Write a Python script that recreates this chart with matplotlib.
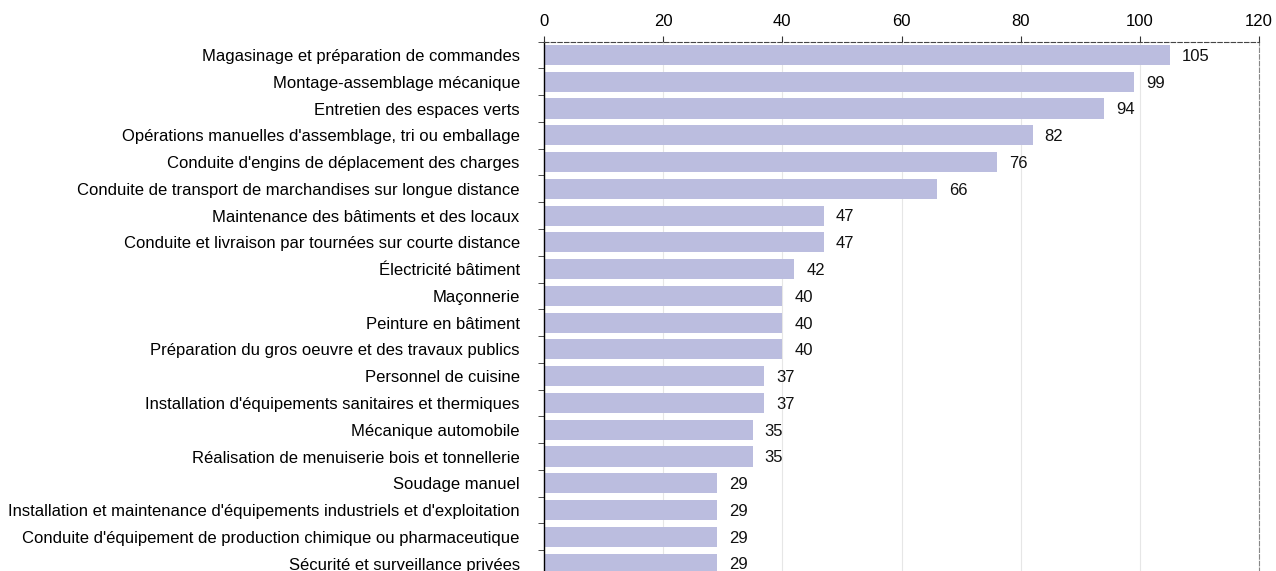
import matplotlib.pyplot as plt
import numpy as np

plt.rcParams['font.family'] = ['Liberation Sans', 'DejaVu Sans']

metiers = [
    "Magasinage et préparation de commandes",
    "Montage-assemblage mécanique",
    "Entretien des espaces verts",
    "Opérations manuelles d'assemblage, tri ou emballage",
    "Conduite d'engins de déplacement des charges",
    "Conduite de transport de marchandises sur longue distance",
    "Maintenance des bâtiments et des locaux",
    "Conduite et livraison par tournées sur courte distance",
    "Électricité bâtiment",
    "Maçonnerie",
    "Peinture en bâtiment",
    "Préparation du gros oeuvre et des travaux publics",
    "Personnel de cuisine",
    "Installation d'équipements sanitaires et thermiques",
    "Mécanique automobile",
    "Réalisation de menuiserie bois et tonnellerie",
    "Soudage manuel",
    "Installation et maintenance d'équipements industriels et d'exploitation",
    "Conduite d'équipement de production chimique ou pharmaceutique",
    "Sécurité et surveillance privées",
]
valeurs = [105, 99, 94, 82, 76, 66, 47, 47, 42, 40, 40, 40, 37, 37, 35, 35, 29, 29, 29, 29]

fig = plt.figure(figsize=(12.76, 5.71), dpi=100)
# axes runs a bit past the bottom edge, the last bar is cut like in the source
ax = fig.add_axes([544/1276, 1 - 577/571, 715/1276, (577 - 41.6)/571])

y = np.arange(len(metiers))
ax.barh(y, valeurs, height=0.75, color='#bbbddf', zorder=2)
for yi, v in zip(y, valeurs):
    ax.text(v + 2.0, yi + 0.05, str(v), va='center', ha='left', fontsize=12, color='#111111')

ax.set_xlim(0, 120)
ax.set_ylim(len(metiers) - 0.5, -0.5)
ax.set_xticks(np.arange(0, 121, 20))
ax.xaxis.tick_top()
ax.tick_params(axis='x', labelsize=12, length=4, color='#333333', pad=5)
ax.grid(axis='x', color='#e6e6e6', linewidth=0.8, zorder=0)

ax.set_yticks(y)
ax.set_yticklabels(metiers, fontsize=12)
ax.set_yticks(np.arange(-0.5, len(metiers), 1), minor=True)
ax.tick_params(axis='y', which='major', length=0, pad=17.5)
ax.tick_params(axis='y', which='minor', length=4, color='#333333')

ax.spines['left'].set_color('black')
ax.spines['left'].set_linewidth(1.0)
ax.spines['top'].set_linestyle((0, (4, 2)))
ax.spines['top'].set_color('#444444')
ax.spines['right'].set_linestyle((0, (4, 2)))
ax.spines['right'].set_color('#888888')
ax.spines['bottom'].set_visible(False)

fig.savefig('out.png', dpi=100)
